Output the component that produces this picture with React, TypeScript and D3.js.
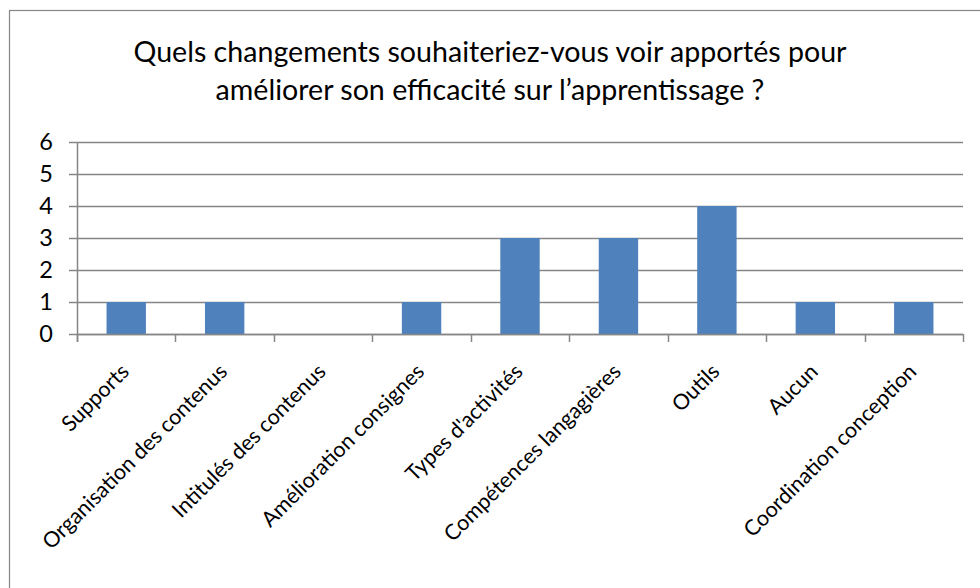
import { useEffect, useRef } from 'react';
import * as d3 from 'd3';

const categories = [
  'Supports',
  'Organisation des contenus',
  'Intitulés des contenus',
  'Amélioration consignes',
  "Types d'activités",
  'Compétences langagières',
  'Outils',
  'Aucun',
  'Coordination conception',
];
const values = [1, 1, 0, 1, 3, 3, 4, 1, 1];
const yTicks = [0, 1, 2, 3, 4, 5, 6];
const titleLines = [
  'Quels changements souhaiteriez-vous voir apportés pour',
  'améliorer son efficacité sur l’apprentissage ?',
];

const FONT = 'Lato, "Open Sans", sans-serif';
const GRAY = '#868686';

export default function App() {
  const ref = useRef<SVGSVGElement | null>(null);

  useEffect(() => {
    if (!ref.current) return;
    const svg = d3.select(ref.current);
    svg.selectAll('*').remove();

    const left = 77;
    const right = 963;
    const top = 142;
    const bottom = 334;

    // chart frame (right and bottom edges fall outside the picture)
    svg.append('rect')
      .attr('x', 9.5)
      .attr('y', 10.5)
      .attr('width', 1000)
      .attr('height', 1000)
      .attr('fill', 'white')
      .attr('stroke', GRAY)
      .attr('stroke-width', 1.2);

    // title
    svg.append('g')
      .selectAll('text')
      .data(titleLines)
      .enter()
      .append('text')
      .attr('x', 490)
      .attr('y', (d, i) => 62 + i * 38)
      .attr('text-anchor', 'middle')
      .style('font-family', FONT)
      .style('font-size', '28.6px')
      .style('fill', '#000')
      .text(d => d);

    const x = d3.scaleBand()
      .domain(categories)
      .range([left, right])
      .paddingInner(0)
      .paddingOuter(0);

    const y = d3.scaleLinear()
      .domain([0, 6])
      .range([bottom, top]);

    // gridlines + y ticks
    svg.append('g')
      .selectAll('line')
      .data(yTicks)
      .enter()
      .append('line')
      .attr('x1', left - 8)
      .attr('x2', right)
      .attr('y1', d => Math.round(y(d)) + 0.5)
      .attr('y2', d => Math.round(y(d)) + 0.5)
      .attr('stroke', GRAY)
      .attr('stroke-width', 1.5);

    // y labels
    svg.append('g')
      .selectAll('text')
      .data(yTicks)
      .enter()
      .append('text')
      .attr('x', 53)
      .attr('y', d => y(d))
      .attr('dy', '0.36em')
      .attr('text-anchor', 'end')
      .style('font-family', FONT)
      .style('font-size', '23.5px')
      .style('fill', '#000')
      .text(d => d);

    // bars
    const barW = x.bandwidth() * 0.4;
    svg.append('g')
      .selectAll('rect')
      .data(values)
      .enter()
      .append('rect')
      .attr('x', (d, i) => x(categories[i])! + (x.bandwidth() - barW) / 2)
      .attr('y', d => y(d))
      .attr('width', barW)
      .attr('height', d => bottom - y(d))
      .attr('fill', '#4f81bd');

    // y axis line
    svg.append('line')
      .attr('x1', left + 0.5)
      .attr('x2', left + 0.5)
      .attr('y1', top)
      .attr('y2', bottom + 8)
      .attr('stroke', GRAY)
      .attr('stroke-width', 1.5);

    // x axis line and tick marks at category boundaries
    svg.append('line')
      .attr('x1', left)
      .attr('x2', right)
      .attr('y1', bottom + 0.5)
      .attr('y2', bottom + 0.5)
      .attr('stroke', GRAY)
      .attr('stroke-width', 1.5);

    const boundaries = categories.map(c => x(c)!).concat([right]);
    svg.append('g')
      .selectAll('line')
      .data(boundaries)
      .enter()
      .append('line')
      .attr('x1', d => Math.round(d) + 0.5)
      .attr('x2', d => Math.round(d) + 0.5)
      .attr('y1', bottom)
      .attr('y2', bottom + 8)
      .attr('stroke', GRAY)
      .attr('stroke-width', 1.5);

    // rotated category labels
    svg.append('g')
      .selectAll('text')
      .data(categories)
      .enter()
      .append('text')
      .attr('transform', d => `translate(${x(d)! + x.bandwidth() / 2 + 4},${bottom + 39}) rotate(-45)`)
      .attr('text-anchor', 'end')
      .style('font-family', FONT)
      .style('font-size', '21.5px')
      .style('fill', '#000')
      .text(d => d);
  }, []);

  return (
    <svg
      ref={ref}
      width={980}
      height={588}
      style={{ position: 'absolute', left: 0, top: 0, display: 'block' }}
    />
  );
}
